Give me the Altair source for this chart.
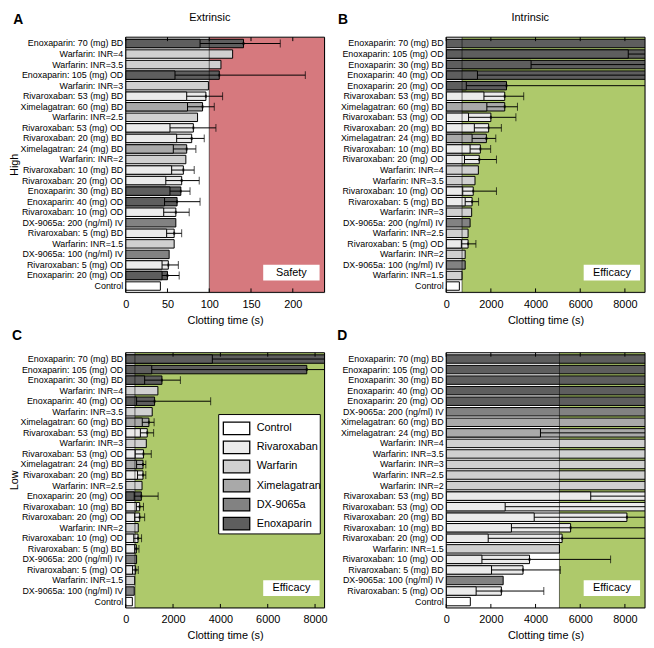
import altair as alt
import pandas as pd

FONT = "Liberation Sans"
W, H = 201, 258

drug_names = ["Control", "Rivaroxaban", "Warfarin", "Ximelagatran", "DX-9065a", "Enoxaparin"]
drug_fills = ["#FFFFFF", "#EBEBEB", "#D0D0D0", "#A9A9A9", "#828282", "#5E5E5E"]

N = None

# ---------------- Panel A : Extrinsic / High ----------------
a_labels = ["Enoxaparin: 70 (mg) BD", "Warfarin: INR=4", "Warfarin: INR=3.5", "Enoxaparin: 105 (mg) OD",
            "Warfarin: INR=3", "Rivaroxaban: 53 (mg) BD", "Ximelagatran: 60 (mg) BD", "Warfarin: INR=2.5",
            "Rivaroxaban: 53 (mg) OD", "Rivaroxaban: 20 (mg) BD", "Ximelagatran: 24 (mg) BD", "Warfarin: INR=2",
            "Rivaroxaban: 10 (mg) BD", "Rivaroxaban: 20 (mg) OD", "Enoxaparin: 30 (mg) BD", "Enoxaparin: 40 (mg) OD",
            "Rivaroxaban: 10 (mg) OD", "DX-9065a: 200 (ng/ml) IV", "Rivaroxaban: 5 (mg) BD", "Warfarin: INR=1.5",
            "DX-9065a: 100 (ng/ml) IV", "Rivaroxaban: 5 (mg) OD", "Enoxaparin: 20 (mg) OD", "Control"]
a_peak = [141, 128, 114, 112, 99, 96, 92, 86, 81, 79, 73, 72, 69, 67, 66, 61.5, 60, 60, 58, 58, 52, 51, 50, 41.5]
a_trough = [89, N, N, 59, N, 73, 74, N, 53, 61, 57, N, 55, 48, 53, 46.5, 45.5, N, 49, N, N, 43.5, 43.5, N]
a_upper = [185, N, N, 215, N, 116, 106, N, 108, 94, 84, N, 82, 88, 77, 89, 76, N, 67, N, N, 63, 64, N]

# ---------------- Panel B : Intrinsic / High ----------------
b_labels = ["Enoxaparin: 70 (mg) BD", "Enoxaparin: 105 (mg) OD", "Enoxaparin: 30 (mg) BD", "Enoxaparin: 40 (mg) OD",
            "Enoxaparin: 20 (mg) OD", "Rivaroxaban: 53 (mg) BD", "Ximelagatran: 60 (mg) BD", "Rivaroxaban: 53 (mg) OD",
            "Rivaroxaban: 20 (mg) BD", "Ximelagatran: 24 (mg) BD", "Rivaroxaban: 10 (mg) BD", "Rivaroxaban: 20 (mg) OD",
            "Warfarin: INR=4", "Warfarin: INR=3.5", "Rivaroxaban: 10 (mg) OD", "Rivaroxaban: 5 (mg) BD",
            "Warfarin: INR=3", "DX-9065a: 200 (ng/ml) IV", "Warfarin: INR=2.5", "Rivaroxaban: 5 (mg) OD",
            "Warfarin: INR=2", "DX-9065a: 100 (ng/ml) IV", "Warfarin: INR=1.5", "Control"]
b_peak = [11500, 11000, 10500, 10000, 2700, 2620, 2620, 2000, 1900, 1800, 1530, 1480,
          1440, 1290, 1210, 1160, 1140, 1070, 980, 980, 850, 850, 710, 590]
b_trough = [N, 8150, 3800, 1400, 900, 1690, 1820, 1000, 1260, 1160, 1070, 820,
            N, N, 740, 850, N, N, N, 680, N, N, N, N]
b_upper = [N, 14000, 13000, 12500, 9500, 3470, 3190, 3120, 2470, 2220, 1990, 2250,
           N, N, 2250, 1450, N, N, N, 1330, N, N, N, N]

# ---------------- Panel C : Extrinsic / Low ----------------
c_labels = ["Enoxaparin: 70 (mg) BD", "Enoxaparin: 105 (mg) OD", "Enoxaparin: 30 (mg) BD", "Warfarin: INR=4",
            "Enoxaparin: 40 (mg) OD", "Warfarin: INR=3.5", "Ximelagatran: 60 (mg) BD", "Rivaroxaban: 53 (mg) BD",
            "Warfarin: INR=3", "Rivaroxaban: 53 (mg) OD", "Ximelagatran: 24 (mg) BD", "Rivaroxaban: 20 (mg) BD",
            "Warfarin: INR=2.5", "Enoxaparin: 20 (mg) OD", "Rivaroxaban: 10 (mg) BD", "Rivaroxaban: 20 (mg) OD",
            "Warfarin: INR=2", "Rivaroxaban: 10 (mg) OD", "Rivaroxaban: 5 (mg) BD", "DX-9065a: 200 (ng/ml) IV",
            "Rivaroxaban: 5 (mg) OD", "Warfarin: INR=1.5", "DX-9065a: 100 (ng/ml) IV", "Control"]
c_peak = [11000, 7650, 1530, 1360, 1220, 1120, 980, 910, 870, 750, 730, 730,
          690, 660, 590, 590, 530, 520, 450, 460, 420, 380, 360, 280]
c_trough = [3660, 1100, 800, N, 460, N, 700, 620, N, 400, 460, 500,
            N, 360, 450, 380, N, 340, 380, N, 290, N, N, N]
c_upper = [13000, 12000, 2310, N, 3590, N, 1200, 1180, N, 1080, 850, 850,
           N, 1370, 750, 800, N, 670, 560, N, 530, N, N, N]

# ---------------- Panel D : Intrinsic / Low ----------------
d_labels = ["Enoxaparin: 70 (mg) BD", "Enoxaparin: 105 (mg) OD", "Enoxaparin: 30 (mg) BD", "Enoxaparin: 40 (mg) OD",
            "Enoxaparin: 20 (mg) OD", "DX-9065a: 200 (ng/ml) IV", "Ximelagatran: 60 (mg) BD", "Ximelagatran: 24 (mg) BD",
            "Warfarin: INR=4", "Warfarin: INR=3.5", "Warfarin: INR=3", "Warfarin: INR=2.5",
            "Warfarin: INR=2", "Rivaroxaban: 53 (mg) BD", "Rivaroxaban: 53 (mg) OD", "Rivaroxaban: 20 (mg) BD",
            "Rivaroxaban: 10 (mg) BD", "Rivaroxaban: 20 (mg) OD", "Warfarin: INR=1.5", "Rivaroxaban: 10 (mg) OD",
            "Rivaroxaban: 5 (mg) BD", "DX-9065a: 100 (ng/ml) IV", "Rivaroxaban: 5 (mg) OD", "Control"]
d_peak = [12000, 12000, 12000, 12000, 12000, 12000, 12000, 11000, 12000, 12000, 12000, 12000,
          12000, 11000, 11000, 8090, 5570, 5190, 5070, 3730, 3440, 2550, 2470, 1080]
d_trough = [N, N, N, N, N, N, N, 4220, N, N, N, N,
            N, 6470, 2640, 3940, 2920, 1880, N, 1600, 2030, N, 1340, N]
d_upper = [N, N, N, N, N, N, N, 13000, N, N, N, N,
           N, 13000, 13000, 12000, 12000, 12000, N, 7360, 5110, N, 4370, N]

RED = "#D6797E"
GREEN = "#AEC96B"


def panel(labels, peak, trough, upper, xmax, thr, region_fill, tag, ticks,
          letter, letter_dx, col_title=None, row_title=None, legend=False):
    df = pd.DataFrame({"label": labels, "peak": peak, "trough": trough, "upper": upper})
    df["drug"] = df["label"].str.split(":").str[0]

    xs = alt.Scale(domain=[0, xmax], nice=False, zero=False)
    xaxis = alt.Axis(values=ticks, title="Clotting time (s)", grid=False, ticks=False, domain=False,
                     labelFlush=False, labelPadding=6, labelFontSize=11, titleFontSize=11,
                     titleFontWeight="normal", titlePadding=5, labelColor="black",
                     titleColor="black", format="d", labelFont=FONT, titleFont=FONT)
    ys = alt.Scale(paddingInner=0.2, paddingOuter=0.2)
    yaxis = alt.Axis(title=None, ticks=False, domain=False, labelFontSize=9, labelPadding=3,
                     labelLimit=400, labelColor="black", labelFont=FONT)
    Y = alt.Y("label:N", sort=labels, scale=ys, axis=yaxis)
    fill = alt.Fill("drug:N", scale=alt.Scale(domain=drug_names, range=drug_fills), legend=None)

    def X(field):
        return alt.X(field, scale=xs, axis=xaxis)

    base = alt.Chart(df)
    thr_df = pd.DataFrame({"x": [thr], "x2": [xmax]})
    region = alt.Chart(thr_df).mark_rect(
        color=region_fill, clip=True).encode(x=X("x:Q"), x2="x2:Q", y=alt.value(0), y2=alt.value(H))
    thr_line = alt.Chart(thr_df).mark_rule(color="black", strokeWidth=1, opacity=0.55).encode(
        x=X("x:Q"), y=alt.value(0), y2=alt.value(H))

    bars = base.mark_bar(stroke="black", strokeWidth=1, clip=True).encode(x=X("peak:Q"), y=Y, fill=fill)
    inner = base.transform_filter("isValid(datum.trough)").mark_bar(
        stroke="black", strokeWidth=1, clip=True).encode(x=X("trough:Q"), y=Y, fill=fill)
    err = base.transform_filter("isValid(datum.upper)").mark_rule(
        color="black", strokeWidth=1, clip=True).encode(x=X("trough:Q"), x2="upper:Q", y=Y)
    cap = base.transform_filter("isValid(datum.upper)").mark_tick(
        color="black", size=8, thickness=1, clip=True).encode(x=X("upper:Q"), y=Y)
    pk = base.transform_filter("isValid(datum.upper)").mark_tick(
        color="black", size=3, thickness=2, clip=True).encode(x=X("peak:Q"), y=Y)

    tdf = pd.DataFrame({"t": ticks})
    tick_bot = alt.Chart(tdf).mark_rule(color="black").encode(
        x=X("t:Q"), y=alt.value(H), y2=alt.value(H - 4))
    tick_top = alt.Chart(tdf).mark_rule(color="black").encode(
        x=X("t:Q"), y=alt.value(0), y2=alt.value(4))

    one = alt.Chart(pd.DataFrame({"k": [0]}))
    frame = one.mark_rect(filled=False, stroke="black", strokeWidth=1).encode(
        x=alt.value(0), x2=alt.value(W), y=alt.value(0), y2=alt.value(H))
    tag_box = one.mark_rect(fill="white").encode(
        x=alt.value(W - 62), x2=alt.value(W - 5), y=alt.value(H - 28), y2=alt.value(H - 12))
    tag_txt = one.mark_text(fontSize=11, font=FONT, color="black").encode(
        x=alt.value(W - 33.5), y=alt.value(H - 20), text=alt.value(tag))
    let = one.mark_text(fontSize=14, fontWeight="bold", font=FONT, color="black").encode(
        x=alt.value(letter_dx), y=alt.value(-17), text=alt.value(letter))

    layers = [region, bars, inner, err, cap, pk, thr_line, tick_bot, tick_top, tag_box, tag_txt, frame, let]
    if col_title:
        layers.append(one.mark_text(fontSize=11, font=FONT, color="black").encode(
            x=alt.value(85), y=alt.value(-19), text=alt.value(col_title)))
    if row_title:
        layers.append(one.mark_text(fontSize=11, font=FONT, color="black", angle=270).encode(
            x=alt.value(-111.8), y=alt.value(H / 2), text=alt.value(row_title)))
    if legend:
        ldf = pd.DataFrame({"drug": drug_names, "idx": list(range(len(drug_names)))})
        lbase = alt.Chart(ldf).transform_calculate(
            cy="76.5 + datum.idx * 19.27", sy="datum.cy - 6.35", sy2="datum.cy + 6.35")
        lbox = one.mark_rect(fill="white", stroke="black", strokeWidth=1).encode(
            x=alt.value(94), x2=alt.value(196.7), y=alt.value(62.5), y2=alt.value(183.2))
        lsw = lbase.mark_rect(stroke="black", strokeWidth=1.3).encode(
            x=alt.value(98.7), x2=alt.value(125.4),
            y=alt.Y("sy:Q", scale=None, axis=None), y2="sy2:Q", fill=fill)
        ltx = lbase.mark_text(fontSize=11, font=FONT, color="black", align="left").encode(
            x=alt.value(132.4), y=alt.Y("cy:Q", scale=None, axis=None), text="drug:N")
        layers += [lbox, lsw, ltx]
    return alt.layer(*layers).properties(width=W, height=H)


ticksA = [0, 50, 100, 150, 200]
ticksL = [0, 2000, 4000, 6000, 8000]

pA = panel(a_labels, a_peak, a_trough, a_upper, 238, 100, RED, "Safety", ticksA, "A", -108.6,
           col_title="Extrinsic", row_title="High")
pB = panel(b_labels, b_peak, b_trough, b_upper, 8900, 710, GREEN, "Efficacy", ticksL, "B", -104.3,
           col_title="Intrinsic")
pC = panel(c_labels, c_peak, c_trough, c_upper, 8400, 390, GREEN, "Efficacy", ticksL, "C", -110,
           row_title="Low", legend=True)
pD = panel(d_labels, d_peak, d_trough, d_upper, 8900, 5070, GREEN, "Efficacy", ticksL, "D", -105)

chart = alt.concat(pA, pB, pC, pD, columns=2,
                   spacing=alt.RowColnumber(row=61, column=123), bounds="flush").properties(
    padding=0
).configure_view(stroke=None).configure(font=FONT)

chart.save("out.html", embed_options={"renderer": "svg", "actions": False})
